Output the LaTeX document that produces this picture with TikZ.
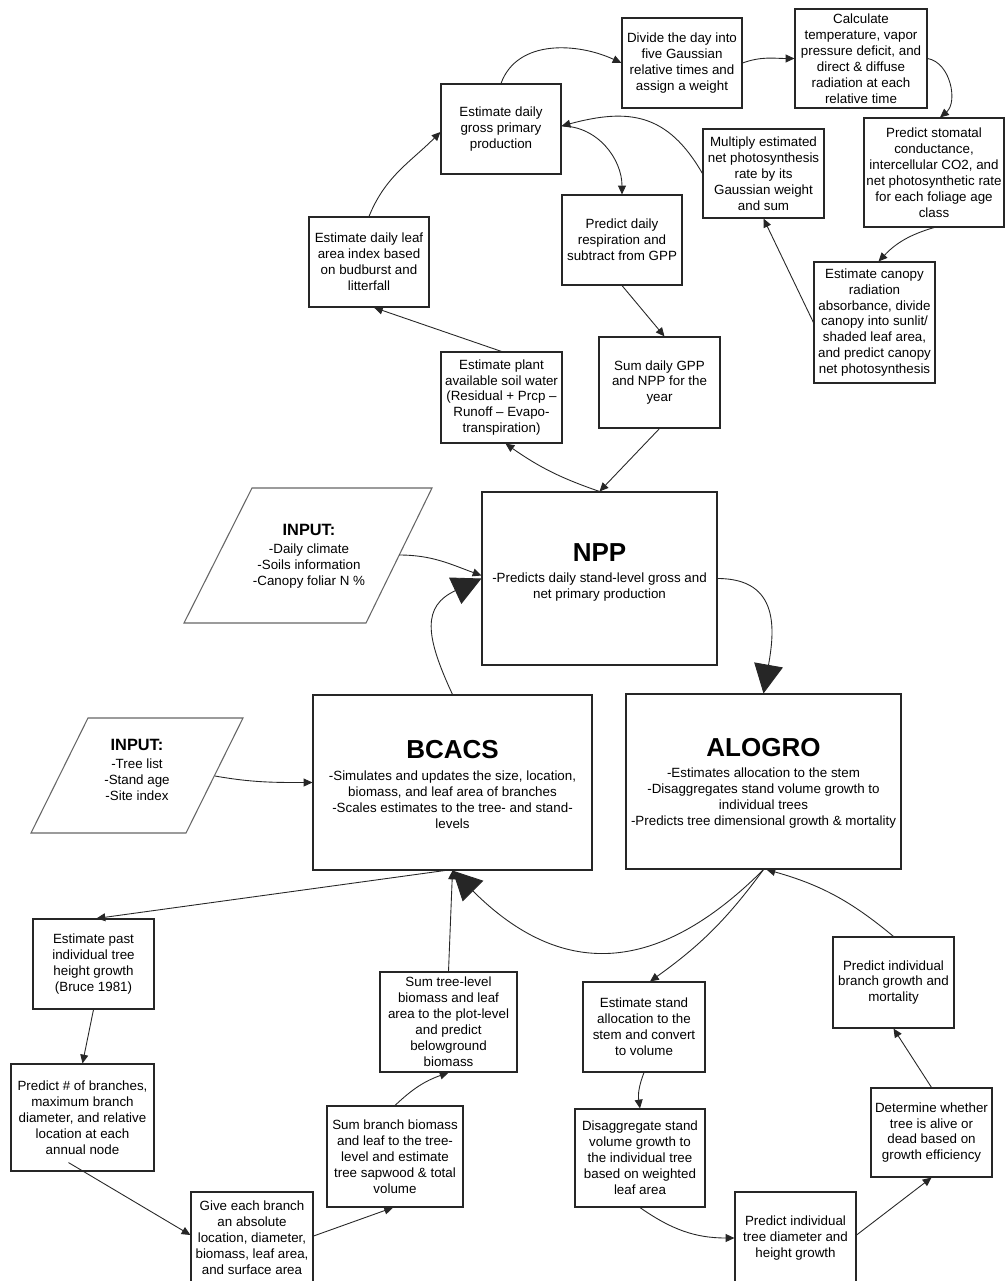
\documentclass[tikz,border=0pt]{standalone}
\usepackage{fontspec}
\setmainfont{Liberation Sans}
\usetikzlibrary{arrows.meta,calc}
\tikzset{
  box/.style={draw=black!85, line width=0.65pt, fill=white, align=center, inner sep=0pt,
    font=\fontsize{7.6pt}{9.07pt}\selectfont},
  txt/.style={align=center, inner sep=0pt, font=\fontsize{7.6pt}{9.07pt}\selectfont},
  ttl/.style={inner sep=0pt, font=\fontsize{14.8pt}{17pt}\selectfont\bfseries},
  inttl/.style={inner sep=0pt, font=\fontsize{9.3pt}{11pt}\selectfont\bfseries},
  para/.style={draw=black!60, line width=0.6pt, fill=white},
  arr/.style={draw=black!85, line width=0.5pt, -{Triangle[length=5pt,width=4.5pt]}},
  bigarr/.style={draw=black!85, line width=0.5pt, -{Triangle[length=16.5pt,width=16.5pt]}}
}
\begin{document}
\begin{tikzpicture}[x=0.02cm,y=0.02cm]
\useasboundingbox (0,0) rectangle (1005,-1281);
\fill[white] (0,0) rectangle (1005,-1281);

% ---------- top cluster ----------
\node[box, minimum width=2.4cm, minimum height=1.8cm] (gpp) at (501,-129) {Estimate daily\\gross primary\\production};
\node[box, minimum width=2.4cm, minimum height=1.8cm] (divide) at (682,-63) {Divide the day into\\five Gaussian\\relative times and\\assign a weight};
\node[box, minimum width=2.64cm, minimum height=1.98cm] (calc) at (861,-58.5) {Calculate\\temperature, vapor\\pressure deficit, and\\direct \& diffuse\\radiation at each\\relative time};
\node[box, minimum width=2.8cm, minimum height=2.18cm] (stom) at (934,-172.5) {Predict stomatal\\conductance,\\intercellular CO2, and\\net photosynthetic rate\\for each foliage age\\class};
\node[box, minimum width=2.42cm, minimum height=1.78cm] (multiply) at (763.5,-173.5) {Multiply estimated\\net photosynthesis\\rate by its\\Gaussian weight\\and sum};
\node[box, minimum width=2.42cm, minimum height=2.42cm] (canopy) at (874.5,-322.5) {Estimate canopy\\radiation\\absorbance, divide\\canopy into sunlit/\\shaded leaf area,\\and predict canopy\\net photosynthesis};
\node[box, minimum width=2.4cm, minimum height=1.8cm] (resp) at (622,-240) {Predict daily\\respiration and\\subtract from GPP};
\node[box, minimum width=2.42cm, minimum height=1.82cm] (sumgpp) at (659.5,-382.5) {Sum daily GPP\\and NPP for the\\year};
\node[box, minimum width=2.4cm, minimum height=1.8cm] (lai) at (369,-262) {Estimate daily leaf\\area index based\\on budburst and\\litterfall};
\node[box, minimum width=2.42cm, minimum height=1.82cm] (soil) at (501.5,-397.5) {Estimate plant\\available soil water\\(Residual + Prcp –\\Runoff – Evapo-\\transpiration)};

% ---------- main model boxes ----------
\node[box, minimum width=4.7cm, minimum height=3.46cm] (npp) at (599.5,-578.5) {};
\node[ttl] (npptitle) at (599.5,-553) {NPP};
\node[txt] (nppbody) at (599.5,-587) {-Predicts daily stand-level gross and\\net primary production};

\node[box, minimum width=5.58cm, minimum height=3.5cm] (bcacs) at (452.5,-782.5) {};
\node[ttl] (bcacstitle) at (452.5,-750) {BCACS};
\node[txt] (bcacsbody) at (452.5,-799.5) {-Simulates and updates the size, location,\\biomass, and leaf area of branches\\-Scales estimates to the tree- and stand-\\levels};

\node[box, minimum width=5.5cm, minimum height=3.5cm] (alogro) at (763.5,-781.5) {};
\node[ttl] (alogrotitle) at (763.5,-748) {ALOGRO};
\node[txt] (alogrobody) at (763.5,-798) {-Estimates allocation to the stem\\-Disaggregates stand volume growth to\\individual trees\\-Predicts tree dimensional growth \& mortality};

% ---------- inputs ----------
\draw[para] (252,-488) -- (432,-488) -- (366,-623) -- (184,-623) -- cycle;
\coordinate (in1edge) at (399,-555);
\node[inttl] (in1title) at (309,-530) {INPUT:};
\node[txt] (in1body) at (309,-566) {-Daily climate\\-Soils information\\-Canopy foliar N \%};

\draw[para] (88,-718) -- (243,-718) -- (186,-833) -- (31,-833) -- cycle;
\coordinate (in2edge) at (215,-776);
\node[inttl] (in2title) at (137,-745) {INPUT:};
\node[txt] (in2body) at (137,-779.5) {-Tree list\\-Stand age\\-Site index};

% ---------- bottom left cluster ----------
\node[box, minimum width=2.42cm, minimum height=1.8cm] (past) at (93.5,-964) {Estimate past\\individual tree\\height growth\\(Bruce 1981)};
\node[box, minimum width=2.86cm, minimum height=2.14cm] (branches) at (82.5,-1117.5) {Predict \# of branches,\\maximum branch\\diameter, and relative\\location at each\\annual node};
\node[box, minimum width=2.44cm, minimum height=1.84cm] (give) at (252,-1238) {Give each branch\\an absolute\\location, diameter,\\biomass, leaf area,\\and surface area};
\node[box, minimum width=2.72cm, minimum height=2.02cm] (sumbranch) at (395,-1156.5) {Sum branch biomass\\and leaf to the tree-\\level and estimate\\tree sapwood \& total\\volume};
\node[box, minimum width=2.74cm, minimum height=2.0cm] (sumtree) at (448.5,-1022) {Sum tree-level\\biomass and leaf\\area to the plot-level\\and predict\\belowground\\biomass};

% ---------- bottom right cluster ----------
\node[box, minimum width=2.44cm, minimum height=1.8cm] (standalloc) at (644,-1027) {Estimate stand\\allocation to the\\stem and convert\\to volume};
\node[box, minimum width=2.6cm, minimum height=1.96cm] (disagg) at (640,-1158) {Disaggregate stand\\volume growth to\\the individual tree\\based on weighted\\leaf area};
\node[box, minimum width=2.42cm, minimum height=1.84cm] (diameter) at (795.5,-1238) {Predict individual\\tree diameter and\\height growth};
\node[box, minimum width=2.42cm, minimum height=1.82cm] (branchgrowth) at (893.5,-982.5) {Predict individual\\branch growth and\\mortality};
\node[box, minimum width=2.42cm, minimum height=1.78cm] (determine) at (931.5,-1132.5) {Determine whether\\tree is alive or\\dead based on\\growth efficiency};

% ---------- connectors: top ----------
\draw[arr] (lai.north) to[out=68,in=225] ($(gpp.west)+(0,-3)$);
\draw[arr] (soil.north) -- ($(lai.south)+(5,0)$);
\draw[arr] (gpp.north) to[out=70,in=155] (divide.west);
\draw[arr] (divide.east) to[out=20,in=180] (calc.west);
\draw[arr] (calc.east) to[out=-10,in=40] ($(stom.north)+(6,0)$);
\draw[arr] (stom.south) to[bend right=15] ($(canopy.north)+(4,0)$);
\draw[arr] (canopy.west) -- (multiply.south);
\draw[arr] (multiply.west) to[out=120,in=15,looseness=1.2] ($(gpp.east)+(0,3)$);
\draw[arr] ($(gpp.east)+(0,3)$) to[out=0,in=90] (resp.north);
\draw[arr] (resp.south) -- ($(sumgpp.north)+(5,0)$);
\draw[arr] (sumgpp.south) -- (npp.north);
\draw[arr] (npp.north) to[bend left=8] ($(soil.south)+(4,0)$);

% ---------- connectors: main ----------
\draw[arr] (in1edge) to[out=0,in=160] ($(npp.west)+(0,3)$);
\draw[bigarr] (bcacs.north) to[out=115,in=205,looseness=1.4] (npp.west);
\draw[bigarr] (npp.east) to[out=0,in=80,looseness=1.3] (alogro.north);
\draw[arr] (in2edge) to[out=-10,in=180] (bcacs.west);
\draw[bigarr] (alogro.south) to[out=225,in=-45,looseness=1.25] (bcacs.south);

% ---------- connectors: bottom ----------
\draw[arr] ($(bcacs.south)+(-8,0)$) -- ($(past.north)+(3,0)$);
\draw[arr] (sumtree.north) -- (bcacs.south);
\draw[arr] (past.south) -- (branches.north);
\draw[arr] ($(branches.south)+(-14,9)$) -- ($(give.west)+(0,3)$);
\draw[arr] ($(give.east)+(0,2)$) -- ($(sumbranch.south)+(-2,0)$);
\draw[arr] (sumbranch.north) to[bend left=12] (sumtree.south);

\draw[arr] (alogro.south) to[bend left=9] ($(standalloc.north)+(6,0)$);
\draw[arr] (branchgrowth.north) to[bend right=12] ($(alogro.south)+(3,0)$);
\draw[arr] (standalloc.south) to[bend right=15] (disagg.north);
\draw[arr] (disagg.south) to[out=-35,in=180] (diameter.west);
\draw[arr] ($(diameter.east)+(0,3)$) -- (determine.south);
\draw[arr] (determine.north) -- (branchgrowth.south);
\end{tikzpicture}
\end{document}
